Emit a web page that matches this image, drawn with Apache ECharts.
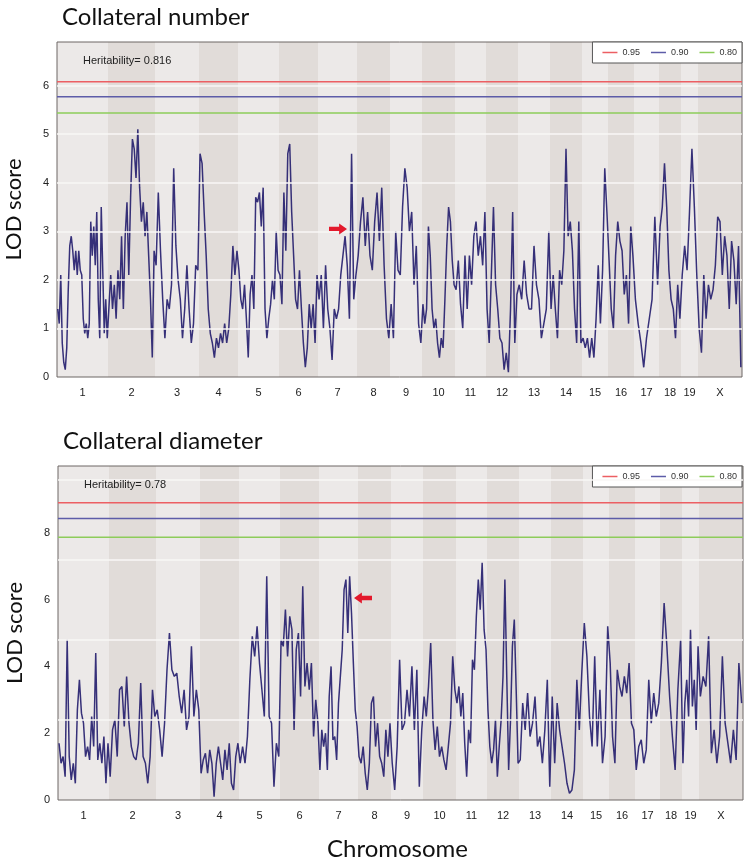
<!DOCTYPE html>
<html>
<head>
<meta charset="utf-8">
<script src="https://cdn.jsdelivr.net/npm/echarts@6/dist/echarts.min.js"></script>
<style>
  html, body { margin: 0; padding: 0; background: #fff; }
  #chart { width: 750px; height: 863px; }
</style>
</head>
<body>
<div id="chart"></div>
<script>
// chromosome layout (approx. cM)
const chromosomes = ['1', '2', '3', '4', '5', '6', '7', '8', '9', '10', '11', '12', '13', '14', '15', '16', '17', '18', '19', 'X']
const chrLength = [51, 47, 44, 39, 41, 39, 39, 33, 32, 33, 31, 32, 32, 32, 26, 26, 25, 22, 17, 44]

// LOD scan, collateral number (one list per chromosome)
const numberLod = [
  [1.4, 1.1, 2.1, 0.7, 0.3, 0.15, 0.6, 1.8, 2.7, 2.9, 2.6, 2.2, 2.6, 2.1, 2.6, 2.2, 2.1, 1.2, 0.9, 1.1, 0.8, 1.1, 3.2, 2.5, 3.1, 2.3, 3.4, 1.6, 0.8, 3.5, 3.5, 0.9, 1.6, 0.8],
  [0.8, 2.1, 1.4, 1.9, 1.2, 2.2, 1.6, 2.9, 1.4, 2.9, 3.6, 2.1, 3.7, 4.9, 4.7, 4.1, 5.1, 3.9, 3.2, 3.6, 2.9, 3.4, 2.5, 1.6, 0.4, 2.6],
  [2.3, 3.8, 2.6, 1.6, 0.8, 1.6, 1.4, 1.9, 4.3, 2.7, 2.0, 1.6, 0.8, 1.4, 2.3, 1.4, 0.7, 1.1, 2.3, 2.2],
  [4.6, 4.4, 3.4, 2.5, 1.4, 0.9, 0.7, 0.4, 0.8, 0.6, 0.9, 0.7, 1.1, 0.7, 1.0, 1.7, 2.7, 2.1, 2.6],
  [2.2, 1.6, 1.4, 1.9, 1.2, 0.4, 1.7, 2.1, 1.4, 3.7, 3.6, 3.8, 3.1, 3.9, 1.4, 0.8, 1.2, 1.5, 2.0, 1.6, 3.0, 2.2],
  [2.1, 1.5, 3.8, 2.6, 4.6, 4.8, 3.4, 2.5, 1.6, 1.4, 2.2, 1.4, 0.7, 0.2, 0.6, 1.5, 1.0, 1.5, 0.7, 2.1],
  [1.6, 2.1, 1.0, 2.3, 1.4, 1.0, 0.35, 1.4, 1.2, 1.4, 2.1, 2.5, 2.9, 2.3, 1.2, 4.6, 1.6, 2.1],
  [2.5, 3.2, 3.7, 2.7, 3.4, 2.5, 2.2, 3.2, 3.8, 2.8, 3.9, 2.3, 1.2, 0.8],
  [1.5, 0.8, 3.0, 2.2, 2.1, 3.5, 4.3, 3.9, 3.0, 3.4, 1.9, 2.7, 1.1, 0.7],
  [1.5, 1.1, 1.4, 3.1, 2.5, 1.4, 1.0, 1.2, 0.7, 0.4, 0.8, 0.6, 1.6, 2.7, 3.5, 3.2, 2.4, 1.9],
  [1.8, 2.4, 1.5, 1.0, 2.5, 1.4, 2.5, 1.9, 2.9, 3.2, 2.5, 2.9, 2.3, 3.4],
  [1.4, 0.7, 2.1, 3.5, 1.9, 1.4, 0.8, 0.7, 0.15, 0.5, 0.1, 1.4, 3.4, 0.7, 1.7],
  [1.9, 1.6, 2.4, 1.7, 1.4, 1.4, 2.7, 1.9, 1.6, 0.8, 1.1, 1.4, 3.0],
  [1.4, 2.1, 1.4, 0.8, 2.2, 1.9, 2.6, 4.7, 2.9, 3.2, 2.6, 1.4, 0.7, 3.2, 0.7],
  [0.8, 0.6, 0.8, 0.4, 0.8, 0.4, 1.2, 2.3, 1.1, 2.2, 4.3, 3.4],
  [2.4, 1.4, 1.0, 2.5, 3.2, 2.8, 2.6, 1.7, 2.1, 1.1, 3.1, 2.5],
  [1.6, 1.1, 0.7, 0.2, 0.8, 1.2, 1.6, 3.3, 1.9],
  [3.1, 3.5, 4.4, 3.5, 2.2, 1.6, 1.4, 0.8, 1.9, 1.2],
  [2.1, 2.7, 2.2, 3.4, 4.7, 3.5, 2.1],
  [1.0, 0.5, 2.1, 1.2, 1.9, 1.6, 1.8, 2.3, 3.3, 3.2, 2.1, 2.9, 2.5, 1.4, 2.8, 2.4, 1.5, 2.7, 0.2]
]

// LOD scan, collateral diameter
const diameterLod = [
  [1.7, 1.1, 1.3, 0.7, 4.8, 1.3, 0.6, 1.1, 0.5, 2.7, 3.6, 2.6, 2.3, 1.3, 1.6, 1.2, 2.5, 1.6, 4.4, 1.2, 1.7, 1.1, 1.9, 0.5, 1.7],
  [0.7, 2.1, 2.4, 1.3, 3.3, 3.4, 2.2, 3.7, 2.3, 1.6, 1.3, 1.2, 1.7, 3.5, 1.3, 1.1, 0.5, 1.3, 3.3, 2.5],
  [2.7, 2.1, 1.3, 2.3, 3.9, 5.0, 3.9, 3.7, 3.8, 3.1, 2.6, 3.3, 2.1, 2.5, 4.6, 2.5, 3.3, 2.7],
  [0.8, 1.2, 1.4, 0.8, 1.5, 1.1, 0.1, 1.1, 1.6, 1.1, 0.6, 1.5, 0.9, 1.7, 0.5, 0.3, 1.3, 1.7],
  [1.1, 1.6, 1.1, 1.9, 3.6, 4.9, 4.3, 5.2, 4.1, 3.3, 2.5, 6.7, 2.5, 2.3, 0.4, 1.7, 1.3],
  [4.8, 4.6, 5.7, 4.3, 5.5, 5.1, 2.1, 4.5, 5.0, 3.1, 6.4, 3.4, 4.1, 3.3, 4.1, 1.9, 3.0, 2.3],
  [0.9, 2.1, 1.6, 2.0, 0.9, 3.1, 4.0, 1.8, 1.9, 1.2, 2.9, 3.7, 4.5, 6.3, 6.6, 5.0, 6.7, 5.6, 4.1, 2.7, 2.2],
  [1.3, 1.1, 1.6, 0.8, 0.3, 1.1, 2.9, 3.1, 1.6, 2.3, 1.3, 1.1, 0.7, 2.1, 1.3, 2.3],
  [1.1, 0.3, 1.6, 4.2, 2.1, 2.3, 3.3, 2.5, 4.0, 2.1, 3.9, 0.4, 2.1],
  [3.1, 2.5, 3.4, 4.7, 2.4, 1.5, 2.2, 1.3, 1.6, 1.2, 0.9, 1.6, 2.3, 4.3, 3.3],
  [2.9, 3.4, 2.5, 3.2, 1.7, 0.7, 2.1, 1.7, 4.2, 3.9, 5.5, 6.6, 5.7, 7.1, 5.1, 4.5],
  [2.7, 1.6, 1.1, 1.5, 2.4, 0.7, 1.6, 2.4, 3.7, 6.6, 3.7, 0.9, 2.4, 4.6, 5.4, 3.3, 1.1],
  [1.2, 2.9, 2.1, 3.2, 1.9, 2.3, 3.1, 1.6, 1.9, 1.1, 2.1, 3.6, 0.4],
  [3.1, 1.1, 2.9, 2.1, 1.6, 1.1, 0.5, 0.2, 0.3, 0.9, 3.6, 2.1, 3.8],
  [5.3, 4.3, 2.5, 1.6, 4.3, 1.6, 3.3, 1.1, 1.9, 5.2],
  [4.1, 1.9, 1.1, 3.9, 3.4, 3.1, 3.7, 3.2, 4.1, 2.3, 2.1],
  [0.9, 1.6, 1.8, 1.1, 1.5, 3.6, 2.3, 3.2, 2.5, 2.9],
  [4.1, 5.9, 4.6, 3.1, 1.9, 0.9, 3.3, 4.8],
  [1.1, 2.9, 3.6, 2.5, 5.1, 2.8, 3.6, 2.1, 4.6],
  [3.1, 3.7, 3.4, 4.9, 1.4, 2.1, 1.1, 1.9, 4.3, 2.3, 1.7, 1.1, 2.1, 1.2, 4.1, 2.9]
]

// permutation thresholds (genome-wide significance levels)
const thresholdLevels = ['0.95', '0.90', '0.80']
const thresholdColors = ['#ec5f63', '#5d5ca8', '#8dcc5a']
const numberThresholds = [6.08, 5.77, 5.44]
const diameterThresholds = [8.9, 8.43, 7.87]

// white reference lines of the original plots
const numberGridLines = [1, 2, 3, 4, 5, 6]
const diameterGridLines = [2.4, 4.8, 7.2, 9.6]

// red arrows: [genome position, LOD]
const numberArrow = [291, 3.05]
const diameterArrow = [295, 6.05]

const chrStart = []
let total = 0
chrLength.forEach(len => { chrStart.push(total); total += len })
const chrCenter = chrStart.map((s, i) => s + chrLength[i] / 2)

const toPoints = lodByChr => {
  const pts = []
  lodByChr.forEach((vals, i) => {
    const step = chrLength[i] / vals.length
    vals.forEach((v, j) => pts.push([chrStart[i] + (j + 0.5) * step, v]))
  })
  return pts
}

const font = 'Liberation Sans, Arial, sans-serif'
const bigFont = 'Lato, Open Sans, sans-serif'

const panels = [
  { title: 'Collateral number', herit: 'Heritability= 0.816', top: 42, height: 335, left: 57, yMax: 6.9, interval: 1,
    lod: numberLod, thresholds: numberThresholds, gridLines: numberGridLines, arrow: numberArrow, arrowDir: 'right' },
  { title: 'Collateral diameter', herit: 'Heritability= 0.78', top: 466, height: 334, left: 58, yMax: 10, interval: 2,
    lod: diameterLod, thresholds: diameterThresholds, gridLines: diameterGridLines, arrow: diameterArrow, arrowDir: 'left' }
]

const arrowRight = 'path://M0,3 L9,3 L9,0 L16,5 L9,10 L9,7 L0,7 Z'
const arrowLeft = 'path://M16,3 L7,3 L7,0 L0,5 L7,10 L7,7 L16,7 Z'

const grid = [], xAxis = [], yAxis = [], series = [], legend = []
const title = []

panels.forEach((p, k) => {
  grid.push({ left: p.left, top: p.top, width: 685, height: p.height, show: true,
    outerBoundsMode: 'none', containLabel: false,
    borderColor: '#6d6664', borderWidth: 1, backgroundColor: 'transparent' })

  xAxis.push({
    type: 'value', gridIndex: k, min: 0, max: total,
    axisLine: { show: false }, axisTick: { show: false }, splitLine: { show: false },
    axisLabel: {
      customValues: chrCenter, margin: 10, fontSize: 11, color: '#222', fontFamily: font,
      formatter: v => chromosomes[chrCenter.findIndex(c => Math.abs(c - v) < 0.01)]
    }
  })

  yAxis.push({
    type: 'value', gridIndex: k, min: 0, max: p.yMax, interval: p.interval,
    axisLine: { show: false }, axisTick: { show: false }, splitLine: { show: false },
    axisLabel: { showMaxLabel: false, margin: 8, fontSize: 11, color: '#222', fontFamily: font },
    name: 'LOD score', nameLocation: 'middle', nameGap: 32,
    nameTextStyle: { fontSize: 22, color: '#111', fontFamily: bigFont }
  })

  // chromosome bands
  series.push({
    type: 'custom', xAxisIndex: k, yAxisIndex: k, z: -1, silent: true,
    data: chromosomes.map((c, i) => [chrStart[i], chrStart[i] + chrLength[i], i]),
    renderItem: (params, api) => {
      const a = api.coord([api.value(0), p.yMax])
      const b = api.coord([api.value(1), 0])
      return {
        type: 'rect',
        shape: { x: a[0], y: a[1], width: b[0] - a[0], height: b[1] - a[1] },
        style: { fill: api.value(2) % 2 ? '#e1dcd9' : '#ece9e8' }
      }
    }
  })

  // white reference lines
  series.push({
    type: 'line', xAxisIndex: k, yAxisIndex: k, data: [], z: 0, silent: true,
    markLine: {
      symbol: 'none', silent: true, label: { show: false },
      lineStyle: { color: '#f8f7f6', width: 1.5, type: 'solid' },
      data: p.gridLines.map(v => ({ yAxis: v }))
    }
  })

  p.thresholds.forEach((v, i) => {
    series.push({
      name: thresholdLevels[i], type: 'line', xAxisIndex: k, yAxisIndex: k, z: 3,
      symbol: 'none', silent: true, data: [[0, v], [total, v]],
      itemStyle: { color: thresholdColors[i] },
      lineStyle: { color: thresholdColors[i], width: 1.5 }
    })
  })

  series.push({
    type: 'line', xAxisIndex: k, yAxisIndex: k, z: 4,
    data: toPoints(p.lod), symbol: 'none',
    lineStyle: { color: '#26206f', width: 1.5, opacity: 0.92 },
    markPoint: {
      silent: true,
      symbol: p.arrowDir === 'right' ? arrowRight : arrowLeft,
      symbolSize: [18, 11],
      symbolOffset: [p.arrowDir === 'right' ? -10 : 10, 0],
      itemStyle: { color: '#e3192c' },
      label: { show: false },
      data: [{ coord: p.arrow }]
    }
  })

  legend.push({
    top: p.top, right: 8, orient: 'horizontal', data: thresholdLevels,
    icon: 'rect', itemWidth: 15, itemHeight: 1.5, itemGap: 11,
    backgroundColor: '#fff', borderColor: '#555', borderWidth: 1, borderRadius: 0,
    padding: [6, 5, 6, 10],
    textStyle: { fontSize: 9, color: '#333', fontFamily: font },
    selectedMode: false
  })

  title.push({ text: p.title, left: p.left, top: p.top - 42,
    textStyle: { fontSize: 24, fontWeight: 'normal', color: '#111', fontFamily: bigFont } })
  title.push({ text: p.herit, left: p.left + 21, top: p.top + 8,
    textStyle: { fontSize: 11, fontWeight: 'normal', color: '#222', fontFamily: font } })
})

title.push({ text: 'Chromosome', left: 322, top: 832,
  textStyle: { fontSize: 24, fontWeight: 'normal', color: '#111', fontFamily: bigFont } })

const chart = echarts.init(document.getElementById('chart'))
chart.setOption({
  animation: false,
  backgroundColor: '#fff',
  title, grid, xAxis, yAxis, series, legend
})
</script>
</body>
</html>
